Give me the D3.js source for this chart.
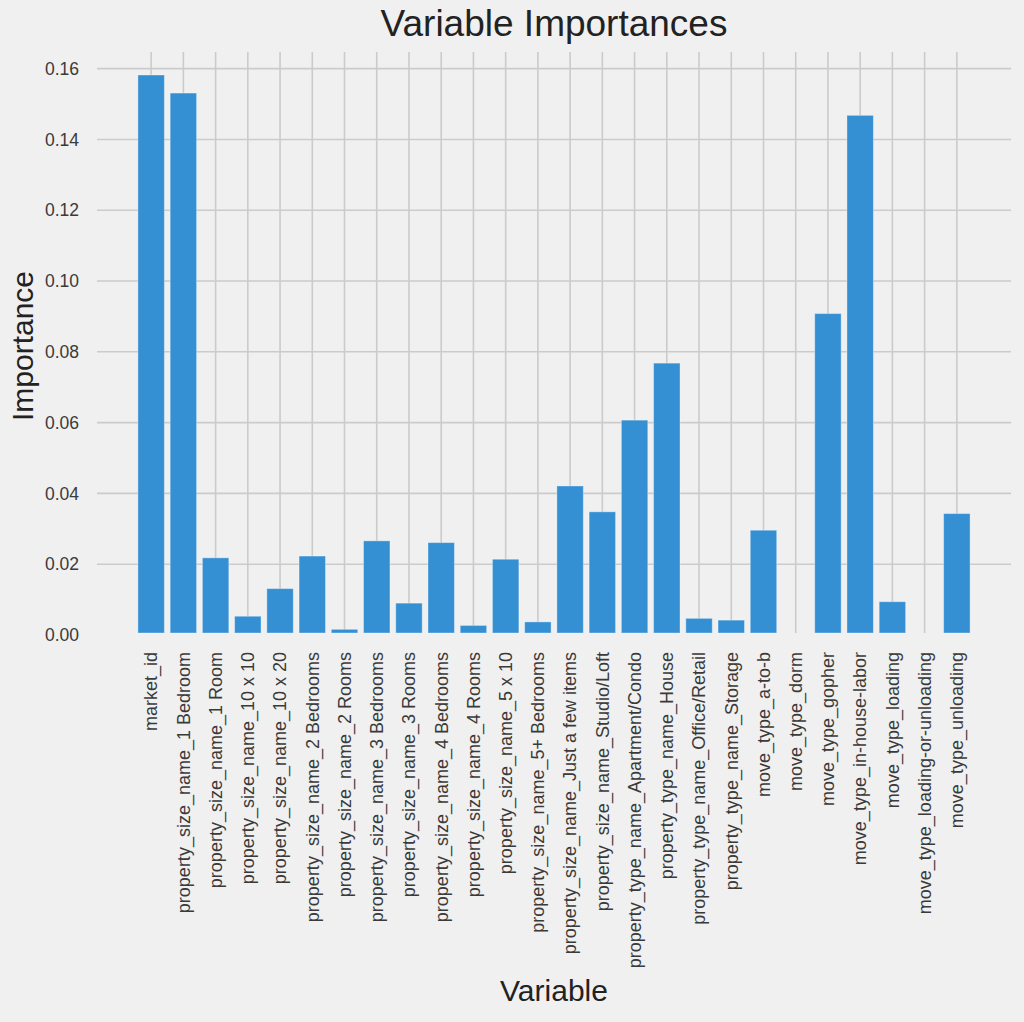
<!DOCTYPE html>
<html>
<head>
<meta charset="utf-8">
<script src="https://cdn.jsdelivr.net/npm/d3@7/dist/d3.min.js"></script>
<style>
  html, body { margin: 0; padding: 0; background: #f0f0f0; }
  svg { display: block; font-family: "Liberation Sans", Arial, Helvetica, sans-serif; }
</style>
</head>
<body>
<div id="chart"></div>
<script>
// variables (x categories)
const variables = [
  "market_id",
  "property_size_name_1 Bedroom",
  "property_size_name_1 Room",
  "property_size_name_10 x 10",
  "property_size_name_10 x 20",
  "property_size_name_2 Bedrooms",
  "property_size_name_2 Rooms",
  "property_size_name_3 Bedrooms",
  "property_size_name_3 Rooms",
  "property_size_name_4 Bedrooms",
  "property_size_name_4 Rooms",
  "property_size_name_5 x 10",
  "property_size_name_5+ Bedrooms",
  "property_size_name_Just a few items",
  "property_size_name_Studio/Loft",
  "property_type_name_Apartment/Condo",
  "property_type_name_House",
  "property_type_name_Office/Retail",
  "property_type_name_Storage",
  "move_type_a-to-b",
  "move_type_dorm",
  "move_type_gopher",
  "move_type_in-house-labor",
  "move_type_loading",
  "move_type_loading-or-unloading",
  "move_type_unloading"
];

// importance values
const importances = [
  0.1582, 0.1531, 0.0218, 0.0053, 0.0131, 0.0223, 0.0016, 0.0266, 0.0090,
  0.0261, 0.0027, 0.0214, 0.0037, 0.0421, 0.0348, 0.0607, 0.0768, 0.0047,
  0.0042, 0.0296, 0.0000, 0.0908, 0.1468, 0.0094, 0.0000, 0.0343
];

const yTicks = [0.00, 0.02, 0.04, 0.06, 0.08, 0.10, 0.12, 0.14, 0.16];

const W = 1024, H = 1022;
const plot = {left: 97, right: 1011, top: 52, bottom: 635};

const data = variables.map((v, i) => ({name: v, value: importances[i]}));

const svg = d3.select("#chart").append("svg")
  .attr("width", W)
  .attr("height", H);

svg.append("rect")
  .attr("width", W)
  .attr("height", H)
  .attr("fill", "#f0f0f0");

const x = d3.scaleBand(variables, [plot.left, plot.right])
  .paddingInner(0.18)
  .paddingOuter(1.27);

const y = d3.scaleLinear()
  .domain([0, 0.1647])
  .range([plot.bottom, plot.top]);

// grid
let grid = svg.append("g").classed("grid", true)
  .attr("stroke", "#cbcbcb")
  .attr("stroke-width", 1.6);

grid.selectAll("line.h")
  .data(yTicks.filter((t) => t > 0))
  .enter()
  .append("line")
  .classed("h", true)
  .attr("x1", plot.left)
  .attr("x2", plot.right)
  .attr("y1", (t) => y(t))
  .attr("y2", (t) => y(t));

grid.selectAll("line.v")
  .data(variables)
  .enter()
  .append("line")
  .classed("v", true)
  .attr("x1", (v) => x(v) + x.bandwidth() / 2)
  .attr("x2", (v) => x(v) + x.bandwidth() / 2)
  .attr("y1", plot.top)
  .attr("y2", plot.bottom - 2);

// bars
svg.append("g").classed("bars", true)
  .selectAll("rect")
  .data(data)
  .enter()
  .append("rect")
  .attr("x", (d) => x(d.name))
  .attr("width", x.bandwidth())
  .attr("y", (d) => y(d.value))
  .attr("height", (d) => y(0) - y(d.value) - 2)
  .attr("fill", "#348fd3")
  .attr("stroke", "#ffffff")
  .attr("stroke-opacity", 0.35)
  .attr("stroke-width", 1)
  .attr("display", (d) => d.value > 0 ? null : "none");

// y tick labels
svg.append("g").classed("y-ticks", true)
  .selectAll("text")
  .data(yTicks)
  .enter()
  .append("text")
  .attr("x", 79)
  .attr("y", (t) => y(t))
  .attr("dy", "0.35em")
  .attr("text-anchor", "end")
  .attr("font-size", 17.5)
  .attr("fill", "#3a3a3a")
  .text((t) => t.toFixed(2));

// x tick labels, rotated
svg.append("g").classed("x-ticks", true)
  .selectAll("text")
  .data(variables)
  .enter()
  .append("text")
  .attr("transform", (v) => "translate(" + (x(v) + x.bandwidth() / 2) + ",652) rotate(-90)")
  .attr("text-anchor", "end")
  .attr("dy", "0.35em")
  .attr("font-size", 18)
  .attr("fill", "#3a3a3a")
  .text((v) => v);

// title and axis labels
svg.append("text")
  .attr("x", (plot.left + plot.right) / 2)
  .attr("y", 36)
  .attr("text-anchor", "middle")
  .attr("font-size", 37)
  .attr("fill", "#222")
  .text("Variable Importances");

svg.append("text")
  .attr("x", (plot.left + plot.right) / 2)
  .attr("y", 1001)
  .attr("text-anchor", "middle")
  .attr("font-size", 30)
  .attr("fill", "#222")
  .text("Variable");

svg.append("text")
  .attr("transform", "translate(33,346) rotate(-90)")
  .attr("text-anchor", "middle")
  .attr("font-size", 30)
  .attr("fill", "#222")
  .text("Importance");
</script>
</body>
</html>
